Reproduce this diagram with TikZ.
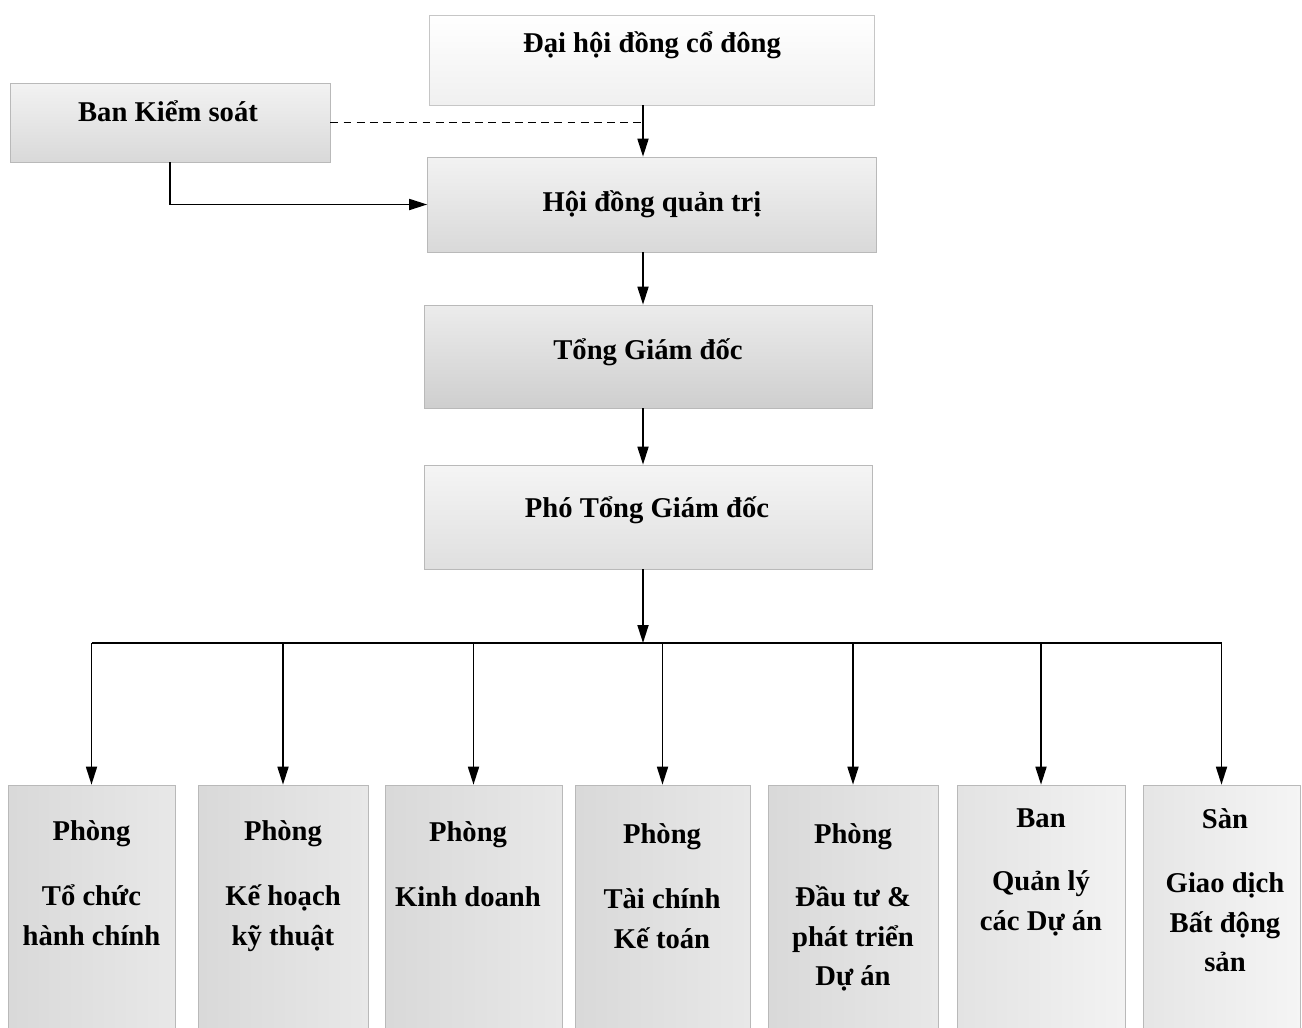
\documentclass[tikz,border=0pt]{standalone}
\usepackage{fontspec}
\setmainfont{Liberation Serif}
\usetikzlibrary{arrows.meta}

\begin{document}
\begin{tikzpicture}
[x=0.02cm,y=-0.02cm,
box/.style={rectangle,draw=gray!55,top color=gray!10,bottom color=gray!30,inner sep=0pt},
lite/.style={rectangle,draw=gray!45,top color=white,bottom color=gray!12,inner sep=0pt},
dept/.style={rectangle,draw=gray!55,left color=gray!30,right color=gray!18,minimum height=5cm,inner sep=0pt},
txt/.style={font=\fontsize{16.3}{22.7}\selectfont\bfseries,align=center,inner sep=0pt},
conn/.style={-{Triangle[length=0.36cm,width=0.22cm]},line width=1pt}]

\useasboundingbox (0,0) rectangle (1302,1028);

% upper part
\node at (652,60)    [lite,minimum width=8.9cm,minimum height=1.8cm]  (dhdcd) {};
\node at (170,122.5) [box,minimum width=6.4cm,minimum height=1.58cm]  (bks)   {};
\node at (652,204.5) [box,minimum width=8.98cm,minimum height=1.9cm]  (hdqt)  {};
\node at (648,356.5) [box,top color=gray!15,bottom color=gray!38,minimum width=8.96cm,minimum height=2.06cm] (tgd) {};
\node at (648,517)   [box,top color=gray!8,bottom color=gray!25,minimum width=8.96cm,minimum height=2.08cm] (ptgd) {};

\node at (652,45)  [txt] (dhdcdt) {Đại hội đồng cổ đông};
\node at (168,111) [txt] (bkst)   {Ban Kiểm soát};
\node at (652,204) [txt] (hdqtt)  {Hội đồng quản trị};
\node at (648,352) [txt] (tgdt)   {Tổng Giám đốc};
\node at (647,510) [txt] (ptgdt)  {Phó Tổng Giám đốc};

\coordinate (jn)  at (643,122.5);
\coordinate (bus) at (643,643);

\draw [dash pattern=on 4.5pt off 3pt,line width=1pt] (bks.east) -- (jn);
\draw [conn] (dhdcd.south -| jn) -- (hdqt.north -| jn);
\draw [conn] (bks.south) |- (hdqt.west);
\draw [conn] (hdqt.south -| jn) -- (tgd.north -| jn);
\draw [conn] (tgd.south -| jn) -- (ptgd.north -| jn);
\draw [conn] (ptgd.south -| jn) -- (bus);

% departments
\node at (91.5,910)   [dept,minimum width=3.34cm] (d1) {};
\node at (283,910)    [dept,minimum width=3.4cm]  (d2) {};
\node at (473.5,910)  [dept,minimum width=3.54cm] (d3) {};
\node at (662.5,910)  [dept,minimum width=3.5cm]  (d4) {};
\node at (853,910)    [dept,minimum width=3.4cm]  (d5) {};
\node at (1041,910)   [dept,left color=gray!22,right color=gray!10,minimum width=3.36cm] (d6) {};
\node at (1221.5,910) [dept,left color=gray!20,right color=gray!8,minimum width=3.14cm]  (d7) {};

\node at (91.5,820)  [txt,anchor=north] (d1t) {Phòng\\[0.5cm]Tổ chức\\hành chính};
\node at (283,820)   [txt,anchor=north] (d2t) {Phòng\\[0.5cm]Kế hoạch\\kỹ thuật};
\node at (468,821)   [txt,anchor=north] (d3t) {Phòng\\[0.5cm]Kinh doanh};
\node at (662,823)   [txt,anchor=north] (d4t) {Phòng\\[0.5cm]Tài chính\\Kế toán};
\node at (853,823)   [txt,anchor=north] (d5t) {Phòng\\[0.46cm]Đầu tư \&\\phát triển\\Dự án};
\node at (1041,808)  [txt,anchor=north] (d6t) {Ban\\[0.48cm]Quản lý\\các Dự án};
\node at (1225,808)  [txt,anchor=north] (d7t) {Sàn\\[0.48cm]Giao dịch\\Bất động\\sản};

\draw [line width=1pt] (d1.north |- bus) -- (d7.north |- bus);
\foreach \d in {d1,d2,d3,d4,d5,d6,d7}
  \draw [conn] (\d.north |- bus) -- (\d.north);
\end{tikzpicture}
\end{document}
